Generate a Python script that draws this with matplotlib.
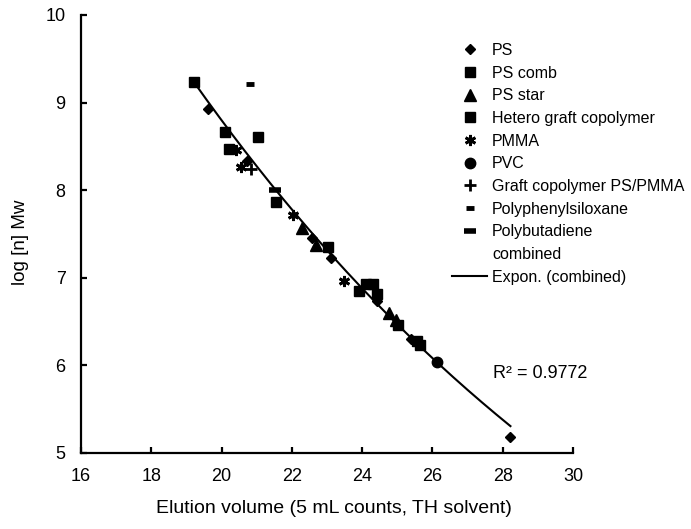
import matplotlib
matplotlib.use('Agg')
import matplotlib.pyplot as plt
from matplotlib.lines import Line2D
import numpy as np

plt.rcParams['font.family'] = ['Liberation Sans', 'DejaVu Sans']

# data (elution volume, log Mw)
ps_x = [19.62, 20.73, 22.56, 23.10, 24.42, 25.40, 28.22]
ps_y = [8.93, 8.33, 7.45, 7.23, 6.74, 6.30, 5.18]

comb_x = [19.21, 20.10, 21.55, 23.04, 23.90, 24.30, 25.65]
comb_y = [9.23, 8.67, 7.87, 7.35, 6.85, 6.93, 6.23]

star_x = [22.30, 22.70, 24.75, 24.95]
star_y = [7.57, 7.37, 6.60, 6.52]

hetero_x = [20.22, 21.05, 24.10, 24.42, 25.03, 25.55]
hetero_y = [8.47, 8.61, 6.93, 6.82, 6.46, 6.28]

pmma_x = [20.42, 20.55, 22.03, 23.48]
pmma_y = [8.46, 8.26, 7.72, 6.96]

pvc_x = [26.12]
pvc_y = [6.04]

graft_x = [20.85]
graft_y = [8.24]

siloxane_x = [20.80]
siloxane_y = [9.21]

butadiene_x = [21.52]
butadiene_y = [8.00]

r2_text = "R\u00b2 = 0.9772"

fig = plt.figure(figsize=(6.91, 5.29), dpi=100)
ax = fig.add_axes([81 / 691, 1 - 453 / 529, 492 / 691, 438 / 529])

k = 'black'
h_ps, = ax.plot(ps_x, ps_y, 'D', color=k, ms=4.6, ls='none', label='PS')
h_comb, = ax.plot(comb_x, comb_y, 's', color=k, ms=7, ls='none', label='PS comb')
h_star, = ax.plot(star_x, star_y, '^', color=k, ms=8, ls='none', label='PS star')
h_het, = ax.plot(hetero_x, hetero_y, 's', color=k, ms=7.5, ls='none', label='Hetero graft copolymer')
h_pmma, = ax.plot(pmma_x, pmma_y, ls='none', marker=(6, 2, 0), color=k, ms=8, mew=2, label='PMMA')
h_pvc, = ax.plot(pvc_x, pvc_y, 'o', color=k, ms=7.5, ls='none', label='PVC')
h_graft, = ax.plot(graft_x, graft_y, '+', color=k, ms=8, mew=2, ls='none', label='Graft copolymer PS/PMMA')
h_sil, = ax.plot(siloxane_x, siloxane_y, '_', color=k, ms=6, mew=3.5, ls='none', label='Polyphenylsiloxane')
h_but, = ax.plot(butadiene_x, butadiene_y, '_', color=k, ms=8, mew=4, ls='none', label='Polybutadiene')

# exponential trendline over all points combined
all_x = np.array(ps_x + comb_x + star_x + hetero_x + pmma_x + pvc_x + graft_x + siloxane_x + butadiene_x)
all_y = np.array(ps_y + comb_y + star_y + hetero_y + pmma_y + pvc_y + graft_y + siloxane_y + butadiene_y)
b, ln_a = np.polyfit(all_x, np.log(all_y), 1)
xs = np.linspace(all_x.min(), all_x.max(), 200)
h_fit, = ax.plot(xs, np.exp(ln_a) * np.exp(b * xs), color=k, lw=1.5, label='Expon. (combined)')

h_comb_blank = Line2D([], [], ls='none', marker='none', label='combined')

ax.set_xlim(16, 30)
ax.set_ylim(5, 10)
ax.set_xticks(range(16, 31, 2))
ax.set_yticks(range(5, 11))
for s in ['top', 'right']:
    ax.spines[s].set_visible(False)
for s in ['left', 'bottom']:
    ax.spines[s].set_linewidth(1.6)
ax.tick_params(direction='in', length=4, width=1.6, labelsize=13, pad=11)

ax.set_xlabel('Elution volume (5 mL counts, TH solvent)', fontsize=14)
ax.set_ylabel('log [n] Mw', fontsize=13.5)
ax.xaxis.set_label_coords(0.515, -0.108)
ax.yaxis.set_label_coords(-0.105, 0.48)

ax.text(27.72, 5.91, r2_text, fontsize=13, va='center', ha='left')

handles = [h_ps, h_comb, h_star, h_het, h_pmma, h_pvc, h_graft, h_sil, h_but, h_comb_blank, h_fit]
ax.legend(handles=handles, loc='upper left', bbox_to_anchor=(452 / 691, 1 - 43 / 529),
          bbox_transform=fig.transFigure, frameon=False, fontsize=11.5,
          borderpad=0, borderaxespad=0, handlelength=2.2, handletextpad=0.3,
          labelspacing=0.48, numpoints=1)

fig.savefig('out.png', dpi=100)
